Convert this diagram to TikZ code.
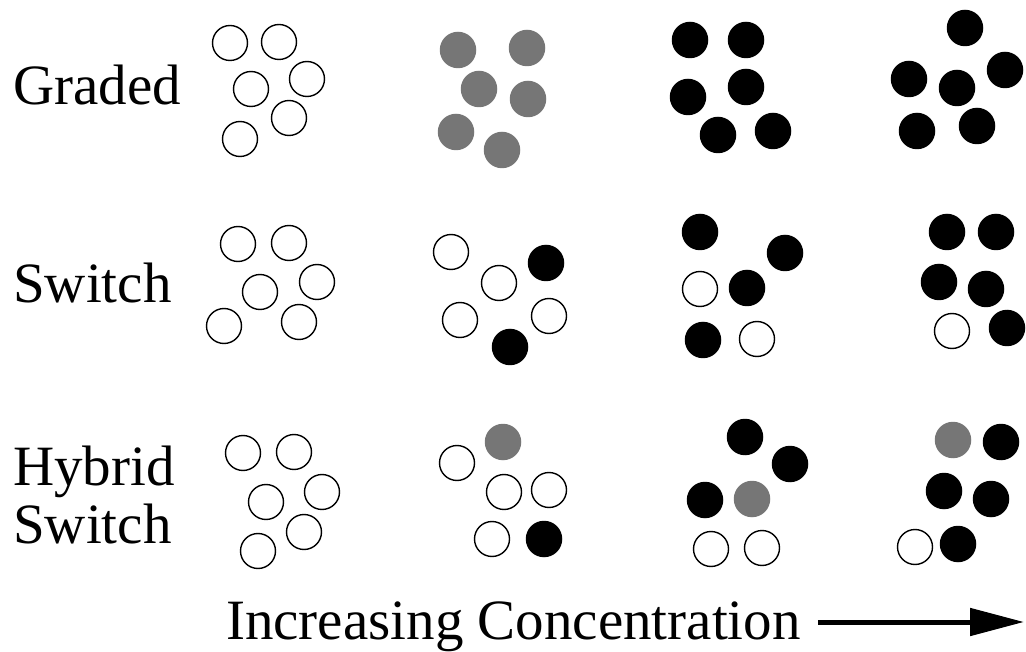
\documentclass[tikz,border=0pt]{standalone}
\usepackage{fontspec}
\setmainfont{Liberation Serif}
\usetikzlibrary{arrows.meta}
\definecolor{partialfill}{HTML}{767676}
\definecolor{boundfill}{HTML}{000000}
\definecolor{outline}{HTML}{000000}

\tikzset{
  unbound/.style={circle, draw=outline, line width=1.4pt, minimum size=35pt, inner sep=0pt},
  bound/.style={circle, fill=boundfill, minimum size=36.5pt, inner sep=0pt},
  partial/.style={circle, fill=partialfill, minimum size=36.5pt, inner sep=0pt},
  rowlabel/.style={font=\fontsize{57}{58}\selectfont, inner sep=0pt, anchor=base west, align=left}
}

\begin{document}
\begin{tikzpicture}[x=1pt, y=-1pt]
  \useasboundingbox (0,0) rectangle (1026,652);

  % Row labels (base of a two-line label is its last line)
  \node[rowlabel] (graded) at (13,105) {Graded};
  \node[rowlabel] (switch) at (13,303) {Switch};
  \node[rowlabel] (hybrid) at (13,543) {Hybrid\\Switch};

  % Graded
  \foreach \x/\y/\s [count=\i] in {
      230/43/unbound, 279/42/unbound, 251/89/unbound, 307/79/unbound, 289/118/unbound, 240/139/unbound,
      458/50/partial, 527/48/partial, 479/89/partial, 528/99/partial, 456/132/partial, 502/150/partial,
      690/40/bound, 746/40/bound, 688/97/bound, 746/87/bound, 718/135/bound, 773/131/bound,
      965/28/bound, 909/79/bound, 957/88/bound, 1005/70/bound, 917/131/bound, 977/126/bound}
    \node[\s] (gr\i) at (\x,\y) {};

  % Switch
  \foreach \x/\y/\s [count=\i] in {
      238/244/unbound, 289/243/unbound, 260/292/unbound, 317/282/unbound, 299/322/unbound, 224/326/unbound,
      451/252/unbound, 546/263/bound, 499/283/unbound, 460/320/unbound, 549/316/unbound, 510/347/bound,
      700/232/bound, 785/253/bound, 700/289/unbound, 747/288/bound, 703/340/bound, 757/339/unbound,
      947/232/bound, 996/232/bound, 939/282/bound, 986/289/bound, 952/331/unbound, 1007/328/bound}
    \node[\s] (sw\i) at (\x,\y) {};

  % Hybrid switch
  \foreach \x/\y/\s [count=\i] in {
      243/453/unbound, 294/452/unbound, 266/502/unbound, 322/492/unbound, 304/532/unbound, 258/551/unbound,
      503/442/partial, 457/463/unbound, 504/492/unbound, 549/490/unbound, 492/539/unbound, 544/539/bound,
      745/437/bound, 790/464/bound, 705/500/bound, 752/499/partial, 711/549/unbound, 762/548/unbound,
      953/440/partial, 1001/442/bound, 944/491/bound, 991/499/bound, 915/547/unbound, 958/544/bound}
    \node[\s] (hy\i) at (\x,\y) {};

  % Concentration axis
  \node[rowlabel] (conc) at (226,639) {Increasing Concentration};
  \coordinate (tip) at (1024,622);
  \draw[-{Triangle[length=54pt, width=27pt]}, line width=5pt]
    ([xshift=17pt]conc.east |- tip) -- (tip);
\end{tikzpicture}
\end{document}
